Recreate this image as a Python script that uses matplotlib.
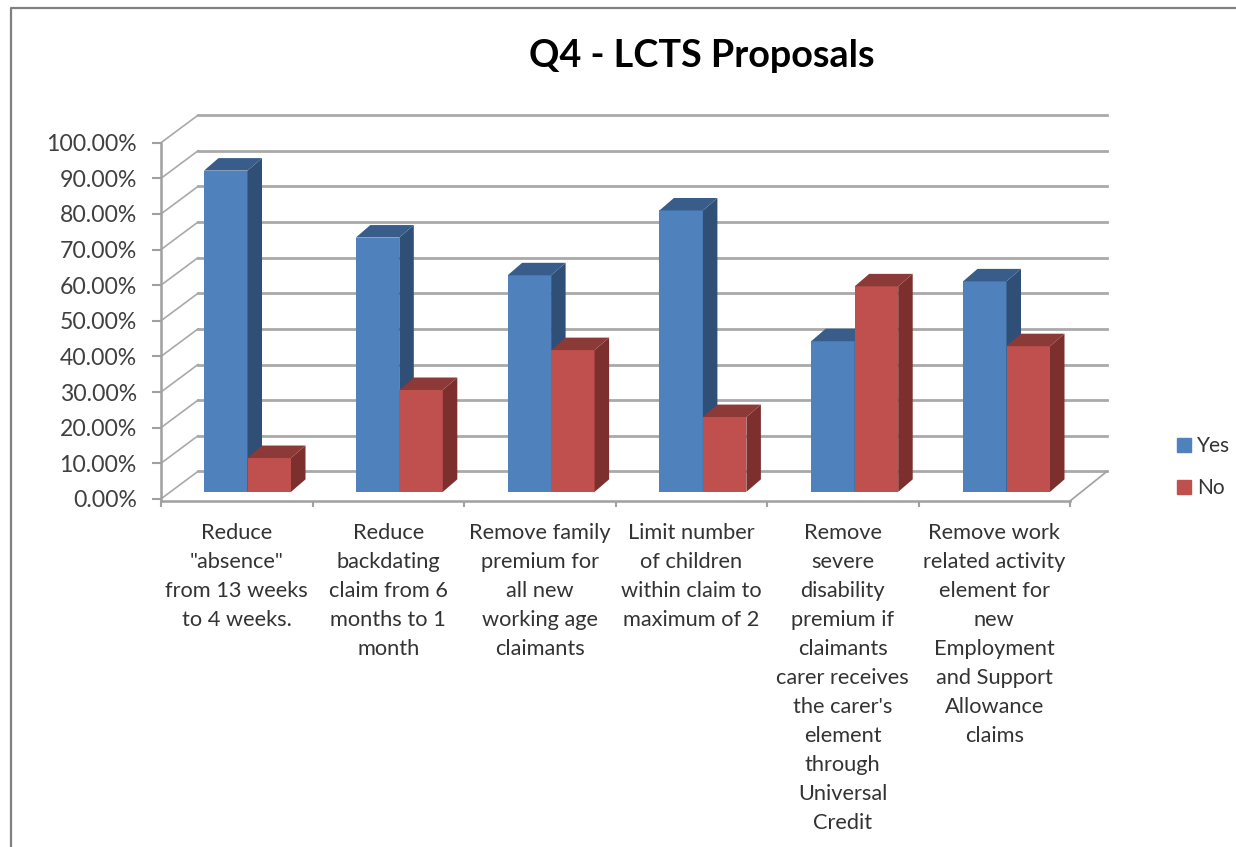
import matplotlib
matplotlib.use("Agg")
import matplotlib.pyplot as plt
from matplotlib.lines import Line2D
from matplotlib.patches import Patch
import numpy as np

plt.rcParams['font.family'] = ['Lato', 'DejaVu Sans']

categories = ['Reduce\n"absence"\nfrom 13 weeks\nto 4 weeks.',
              'Reduce\nbackdating\nclaim from 6\nmonths to 1\nmonth',
              'Remove family\npremium for\nall new\nworking age\nclaimants',
              'Limit number\nof children\nwithin claim to\nmaximum of 2',
              "Remove\nsevere\ndisability\npremium if\nclaimants\ncarer receives\nthe carer's\nelement\nthrough\nUniversal\nCredit",
              'Remove work\nrelated activity\nelement for\nnew\nEmployment\nand Support\nAllowance\nclaims']
yes_vals = [90.2, 71.4, 60.8, 79.0, 42.3, 59.1]
no_vals = [9.5, 28.6, 39.8, 21.0, 57.7, 40.9]
y_ticks = [0, 10, 20, 30, 40, 50, 60, 70, 80, 90, 100]

W, H = 1236, 847
fig = plt.figure(figsize=(W/100, H/100), dpi=100)
ax = fig.add_axes([161/W, (H-501)/H, (1070-161)/W, (501-142.7)/H])
ax.set_xlim(0, 6)
ax.set_ylim(-0.6, 100)

px_x = 6/(1070-161)   # data per pixel
px_y = 100.6/(501-142.7)

# back wall and floor
wall_dx, wall_dy = 37*px_x, 27.5*px_y
for t in y_ticks:
    ax.plot([0, wall_dx], [t, t+wall_dy], color='#a9a9a9', lw=1.2, zorder=1, clip_on=False)
    ax.plot([wall_dx, 6+wall_dx], [t+wall_dy, t+wall_dy], color='#a9a9a9', lw=2.0, zorder=1, clip_on=False)
ax.plot([6, 6+wall_dx], [-0.6, wall_dy], color='#a0a0a0', lw=1.2, zorder=1, clip_on=False)

# bars with fake depth
bar_dx, bar_dy = 14.5*px_x, 12.5*px_y
base = 7*px_y
bw = 43.5*px_x
start = 43*px_x
step = 151.8*px_x

def bar3d(x, w, v, front, side, top):
    y0, y1 = base, base+v
    ax.fill([x, x+w, x+w, x], [y0, y0, y1, y1], color=front, lw=0, zorder=3, clip_on=False)
    ax.fill([x+w, x+w+bar_dx, x+w+bar_dx, x+w], [y0, y0+bar_dy, y1+bar_dy, y1], color=side, lw=0, zorder=3, clip_on=False)
    ax.fill([x, x+w, x+w+bar_dx, x+bar_dx], [y1, y1, y1+bar_dy, y1+bar_dy], color=top, lw=0, zorder=3, clip_on=False)

for i in range(len(categories)):
    bar3d(i*step+start, bw, yes_vals[i], '#4f81bd', '#2f4f77', '#385d8a')
    bar3d(i*step+start+bw, bw, no_vals[i], '#c0504d', '#7d2f2d', '#8b3a38')

for s in ['top', 'right']:
    ax.spines[s].set_visible(False)
for s in ['left', 'bottom']:
    ax.spines[s].set_color('#a0a0a0')
    ax.spines[s].set_linewidth(1.8)

ax.set_yticks(y_ticks)
ax.set_yticklabels(['%.2f%%' % t for t in y_ticks], fontsize=16.6, color='#404040')
ax.tick_params(axis='y', length=6.5, width=1.5, color='#a0a0a0', pad=11)
ax.set_xticks(np.arange(7))
ax.set_xticklabels([])
ax.tick_params(axis='x', length=4, width=1.5, color='#a0a0a0')
ax.set_xticks(np.arange(6)+0.5, minor=True)
ax.set_xticklabels(categories, minor=True, fontsize=15.7, color='#333333', linespacing=1.563)
ax.tick_params(axis='x', which='minor', length=0, pad=16)

fig.text(702/W, 1-56/H, 'Q4 - LCTS Proposals', fontsize=27.2, fontweight='bold', color='black',
         ha='center', va='center')

handles = [Patch(color='#4f81bd', label='Yes'), Patch(color='#c0504d', label='No')]
fig.legend(handles=handles, loc='center left', bbox_to_anchor=(1177/W, 1-467/H), frameon=False, fontsize=15,
           handlelength=0.67, handleheight=0.67, handletextpad=0.3, labelspacing=1.05, borderpad=0, borderaxespad=0,
           labelcolor='#333333')

# chart area outline
fig.add_artist(Line2D([11/W, 11/W, 1], [0, 1-8/H, 1-8/H], color='#808080', lw=1.6))

fig.savefig('out.png', dpi=100)
